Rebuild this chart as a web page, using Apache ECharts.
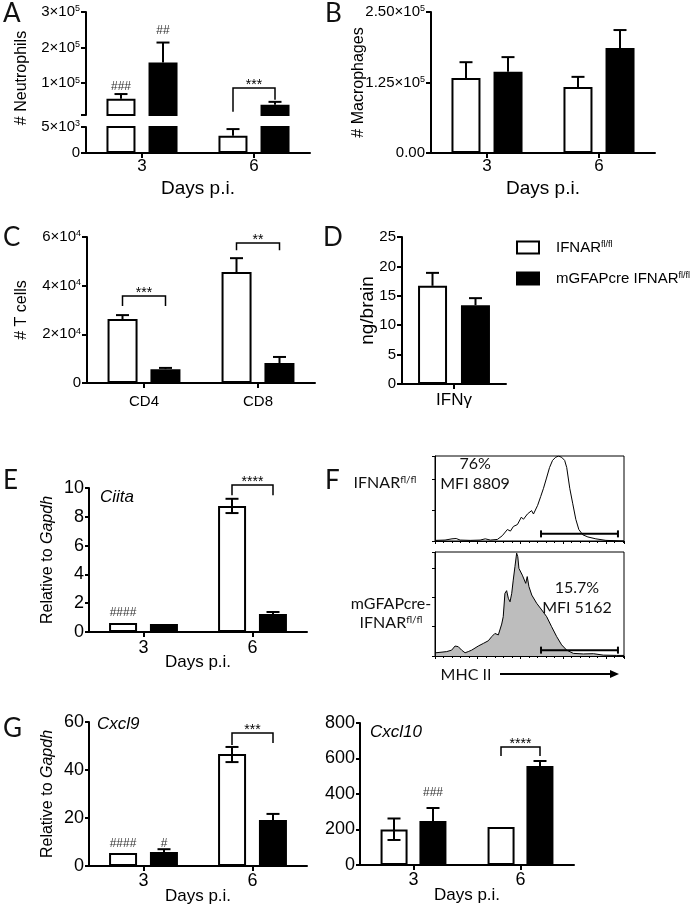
<!DOCTYPE html>
<html><head><meta charset="utf-8">
<script src="https://cdn.jsdelivr.net/npm/echarts@6/dist/echarts.min.js"></script>
<style>html,body{margin:0;padding:0;background:#fff}#c{width:700px;height:909px}</style>
</head><body><div id="c"></div>
<script>
const FONT = "'Liberation Sans', Arial, sans-serif";
const HUM = "Lato, 'Open Sans', sans-serif";

// ---------- DATA ----------
const days = ['3', '6'];
// A: neutrophils
const aWhite = [56000, 3300];
const aWhiteHi = [69000, 4600];
const aBlack = [158000, 39000];
const aBlackHi = [214000, 47000];
const aUpperLabels = [100000, 200000, 300000];
const aUpperTicks = [10000, 100000, 200000, 300000];
const aHashPos = [[0, 73000, -1], [0, 230000, 1]];
const aHashText = ['###', '##'];
const aBracket = [[1, 86000, 19000, 53000]];
const aStarText = ['***'];
// B: macrophages
const bWhite = [133000, 117000];
const bWhiteHi = [161000, 135000];
const bBlack = [144000, 186000];
const bBlackHi = [170000, 218000];
// C: T cells
const tCells = ['CD4', 'CD8'];
const cWhite = [26300, 45600];
const cWhiteHi = [27900, 51300];
const cBlack = [5700, 8200];
const cBlackHi = [6200, 10700];
const cBracket = [[0, 35800, 31600, 31600], [1, 57500, 54600, 54600]];
const cStarText = ['***', '**'];
// D: IFNg
const cytokine = ['IFNγ'];
const dWhite = [16.7];
const dWhiteHi = [18.9];
const dBlack = [13.4];
const dBlackHi = [14.6];
// E: Ciita
const eWhite = [0.63, 8.75];
const eWhiteLo = [0.63, 8.26];
const eWhiteHi = [0.63, 9.25];
const eBlack = [0.55, 1.25];
const eBlackHi = [0.55, 1.39];
const eHashPos = [[0, 0.95, -1]];
const eHashText = ['####'];
const eBracket = [[1, 10.2, 9.5, 9.5]];
const eStarText = ['****'];
// F: MHC II histograms (x: % of plot width, y: counts in tick units)
const fTopHist = [[0,0.02],[5.3,0.03],[9,0.07],[11.2,0.08],[13.3,0.03],[18.6,0.02],[23.9,0.03],[26.6,0.07],[29.3,0.03],[33,0.05],
  [35.6,0.17],[38.3,0.37],[39.9,0.32],[41.5,0.47],[43.6,0.53],[45.7,0.77],[46.8,0.70],[48.9,0.87],[51.1,0.98],[52.1,0.87],
  [54.3,1.15],[55.9,1.43],[57.4,1.70],[59,2.03],[60.6,2.37],[62.2,2.60],[63.8,2.70],[65.4,2.74],[67,2.70],[68.6,2.60],
  [69.7,2.37],[71.3,1.70],[72.9,1.20],[74.5,0.70],[76.1,0.37],[78.2,0.20],[80.9,0.13],[85.1,0.07],[90.4,0.02],[100,0]];
const fBottomHist = [[0.5,0.11],[6.2,0.15],[8.8,0.20],[10.6,0.34],[12.3,0.32],[14.1,0.20],[15.9,0.11],[17.6,0.15],[19.4,0.20],
  [22.9,0.34],[25.6,0.43],[28.2,0.52],[30,0.66],[31.7,0.77],[33.5,0.72],[35.3,1.09],[36.1,1.34],[37,2.14],[37.9,2.23],
  [38.8,1.97],[39.7,1.85],[40.6,2.14],[41.4,2.59],[42.3,3.05],[43.2,3.51],[43.8,3.39],[44.4,2.99],[45.3,2.94],[46.2,2.76],
  [47.1,2.73],[48,2.48],[48.8,2.71],[49.7,2.37],[51.2,2.08],[53.8,1.80],[56.5,1.57],[59.1,1.34],[61.7,1.00],[64.4,0.66],
  [67,0.38],[69.7,0.20],[73.2,0.09],[78.5,0.07],[83.8,0.08],[89,0.03],[96.1,0.02],[100,0.02]];
const fTopGate = [[56.1, 0.23, 96.8]];
const fBottomGate = [[56.1, 0.20, 96.8]];
const fTopTextPos = [[21.2, 2.5, 0], [21.2, 1.85, 0]];
const fTopText = ['76%', 'MFI 8809'];
const fBottomTextPos = [[75.1, 2.32, 0], [75.1, 1.64, 0]];
const fBottomText = ['15.7%', 'MFI 5162'];
// G: Cxcl9
const gWhite = [5.4, 46.7];
const gWhiteLo = [5.4, 43.3];
const gWhiteHi = [5.4, 49.6];
const gBlack = [5.8, 19.2];
const gBlackHi = [7.0, 21.7];
const gHashPos = [[0, 6.7, -1], [0, 6.7, 1]];
const gHashText = ['####', '#'];
const gBracket = [[1, 55.4, 50.4, 51.2]];
const gStarText = ['***'];
// G: Cxcl10
const hWhite = [200, 214];
const hWhiteLo = [141, 214];
const hWhiteHi = [262, 214];
const hBlack = [248, 558];
const hBlackHi = [321, 586];
const hHashPos = [[0, 372, 1]];
const hHashText = ['###'];
const hBracket = [[1, 665, 614, 614]];
const hStarText = ['****'];

// ---------- HELPERS ----------
const W = 'IFNAR', K = 'mGFAPcre IFNAR';
function sci(v, dec) {
  if (v === 0) return dec ? (0).toFixed(dec) : '0';
  const e = Math.floor(Math.log10(v) + 1e-9);
  const m = v / Math.pow(10, e);
  return m.toFixed(dec) + '×10{s|' + e + '}';
}
function bars(gi, white, black, bw, gap) {
  return [
    {name: W, type: 'bar', xAxisIndex: gi, yAxisIndex: gi, data: white, barWidth: bw, barGap: gap, silent: true,
     itemStyle: {color: '#fff', borderColor: '#000', borderWidth: 2}},
    {name: K, type: 'bar', xAxisIndex: gi, yAxisIndex: gi, data: black, barWidth: bw, barGap: gap, silent: true,
     itemStyle: {color: '#000', borderColor: '#000', borderWidth: 2}}
  ];
}
function errRows(vals, lo, hi, side, min, max) {
  return vals.map((v, i) => [i, v, lo[i], hi[i], side])
    .filter(r => (r[3] > r[2] || r[2] < r[1]) && r[1] >= min && r[1] <= max);
}
function errSeries(gi, off, rows) {
  return {type: 'custom', xAxisIndex: gi, yAxisIndex: gi, data: rows, z: 4, silent: true,
    renderItem: (p, api) => {
      const cat = api.value(0), v = api.value(1), lo = api.value(2), hi = api.value(3), side = api.value(4);
      const ph = api.coord([cat, hi]), pl = api.coord([cat, lo]);
      const x = ph[0] + side * off, c = 6.5;
      const st = {stroke: '#000', lineWidth: 2};
      const ch = [{type: 'line', shape: {x1: x, y1: pl[1], x2: x, y2: ph[1]}, style: st},
                  {type: 'line', shape: {x1: x - c, y1: ph[1], x2: x + c, y2: ph[1]}, style: st}];
      if (lo < v) ch.push({type: 'line', shape: {x1: x - c, y1: pl[1], x2: x + c, y2: pl[1]}, style: st});
      return {type: 'group', children: ch};
    }};
}
function bracketSeries(gi, off, rows) {
  return {type: 'custom', xAxisIndex: gi, yAxisIndex: gi, data: rows, z: 4, silent: true,
    renderItem: (p, api) => {
      const cat = api.value(0);
      const pt = api.coord([cat, api.value(1)]), pl = api.coord([cat, api.value(2)]), pr = api.coord([cat, api.value(3)]);
      const xl = pt[0] - off, xr = pt[0] + off;
      return {type: 'polyline', shape: {points: [[xl, pl[1]], [xl, pt[1]], [xr, pt[1]], [xr, pr[1]]]},
        style: {stroke: '#000', lineWidth: 1.5, fill: null}};
    }};
}
function textSeries(gi, off, rows, texts, o) {
  return {type: 'custom', xAxisIndex: gi, yAxisIndex: gi, data: rows, z: 5, silent: true,
    renderItem: (p, api) => {
      const pt = api.coord([api.value(0), api.value(1)]);
      return {type: 'text', x: pt[0] + api.value(2) * off, y: pt[1] + (o.dy || 0),
        style: {text: texts[p.dataIndex], fill: o.color || '#000', fontSize: o.fs, fontFamily: o.font || FONT,
          align: 'center', verticalAlign: o.va || 'bottom'}};
    }};
}
function starRows(br) { return br.map(b => [b[0], b[1], 0]); }
function gateSeries(gi, rows) {
  return {type: 'custom', xAxisIndex: gi, yAxisIndex: gi, data: rows, z: 5, silent: true,
    renderItem: (p, api) => {
      const a = api.coord([api.value(0), api.value(1)]), b = api.coord([api.value(2), api.value(1)]);
      const st = {stroke: '#000', lineWidth: 2};
      return {type: 'group', children: [
        {type: 'line', shape: {x1: a[0], y1: a[1], x2: b[0], y2: b[1]}, style: st},
        {type: 'line', shape: {x1: a[0], y1: a[1] - 3.5, x2: a[0], y2: a[1] + 3.5}, style: st},
        {type: 'line', shape: {x1: b[0], y1: b[1] - 3.5, x2: b[0], y2: b[1] + 3.5}, style: st}]};
    }};
}
const axLine = {show: true, lineStyle: {color: '#000', width: 2}};
function catAxis(gi, data, o) {
  return {type: 'category', gridIndex: gi, data: data, show: o.show !== false,
    axisLine: axLine,
    axisTick: {show: true, alignWithLabel: true, length: 5, lineStyle: {color: '#000', width: 2}},
    axisLabel: {color: '#000', fontFamily: FONT, fontSize: o.fs || 17, margin: o.margin || 6},
    name: o.name || '', nameLocation: 'middle', nameGap: o.nameGap || 25, nameMoveOverlap: false,
    nameTextStyle: {color: '#000', fontFamily: FONT, fontSize: o.nfs || 17}};
}
function valAxis(gi, o) {
  const ax = {type: 'value', gridIndex: gi, min: o.min, max: o.max,
    axisLine: axLine, splitLine: {show: false},
    axisTick: {show: true, length: o.tl || 5, lineStyle: {color: '#000', width: 2}},
    axisLabel: {color: '#000', fontFamily: FONT, fontSize: o.fs || 15, margin: o.margin || 7,
      formatter: o.fmt || (v => String(v)),
      rich: {s: {fontSize: Math.round((o.fs || 15) * 0.62), fontFamily: FONT, color: '#000', verticalAlign: 'top'}}},
    name: o.name || '', nameLocation: 'middle', nameGap: o.nameGap || 40, nameMoveOverlap: false,
    nameTextStyle: {color: '#000', fontFamily: FONT, fontSize: o.nfs || 16,
      rich: {n: {fontSize: o.nfs || 16, fontFamily: FONT, color: '#000'},
             i: {fontSize: o.nfs || 16, fontFamily: FONT, color: '#000', fontStyle: 'italic'}}}};
  if (o.interval) ax.interval = o.interval;
  if (o.labelValues) ax.axisLabel.customValues = o.labelValues;
  if (o.tickValues) ax.axisTick.customValues = o.tickValues;
  return ax;
}
function flowX(gi) {
  return {type: 'value', gridIndex: gi, min: 0, max: 100, interval: 22.6,
    axisLine: {show: true, lineStyle: {color: '#000', width: 1}},
    axisTick: {show: true, length: 3, lineStyle: {color: '#000', width: 1}},
    minorTick: {show: true, splitNumber: 5, length: 2, lineStyle: {color: '#000', width: 1}},
    axisLabel: {show: false}, splitLine: {show: false}};
}
function flowY(gi, max) {
  return {type: 'value', gridIndex: gi, min: 0, max: max, interval: 1,
    axisLine: {show: true, lineStyle: {color: '#000', width: 1}},
    axisTick: {show: true, length: 3, lineStyle: {color: '#000', width: 1}},
    axisLabel: {show: false}, splitLine: {show: false}};
}

const grids = [
  {left: 86, top: 12, width: 224, height: 103},
  {left: 86, top: 127, width: 224, height: 26},
  {left: 431, top: 12, width: 224, height: 141},
  {left: 87, top: 237, width: 228, height: 146},
  {left: 402, top: 237, width: 104, height: 147},
  {left: 89, top: 488, width: 218, height: 144},
  {left: 435, top: 456, width: 189, height: 85, show: true, borderColor: '#000', borderWidth: 1, backgroundColor: 'transparent'},
  {left: 435, top: 552, width: 189, height: 104, show: true, borderColor: '#000', borderWidth: 1, backgroundColor: 'transparent'},
  {left: 89, top: 722, width: 218, height: 144},
  {left: 360, top: 723, width: 214, height: 142}
];

const xAxes = [
  catAxis(0, days, {show: false}),
  catAxis(1, days, {fs: 17, margin: 5, name: 'Days p.i.', nameGap: 26, nfs: 19}),
  catAxis(2, days, {fs: 17, margin: 5, name: 'Days p.i.', nameGap: 26, nfs: 19}),
  catAxis(3, tCells, {fs: 15, margin: 11}),
  catAxis(4, cytokine, {fs: 17, margin: 8}),
  catAxis(5, days, {fs: 18, margin: 7, name: 'Days p.i.', nameGap: 22, nfs: 17}),
  flowX(6), flowX(7),
  catAxis(8, days, {fs: 18, margin: 6, name: 'Days p.i.', nameGap: 22, nfs: 17}),
  catAxis(9, days, {fs: 18, margin: 6, name: 'Days p.i.', nameGap: 22, nfs: 17})
];
const yAxes = [
  valAxis(0, {min: 10000, max: 300000, labelValues: aUpperLabels, tickValues: aUpperTicks, fmt: v => sci(v, 0), margin: 6}),
  valAxis(1, {min: 0, max: 5000, interval: 5000, fmt: v => sci(v, 0), margin: 6}),
  valAxis(2, {min: 0, max: 250000, interval: 125000, fmt: v => sci(v, 2), margin: 6, name: '# Macrophages', nameGap: 64}),
  valAxis(3, {min: 0, max: 60000, interval: 20000, fmt: v => sci(v, 0), margin: 6, name: '# T cells', nameGap: 57}),
  valAxis(4, {min: 0, max: 25, interval: 5, margin: 6, name: 'ng/brain', nameGap: 25, nfs: 19}),
  valAxis(5, {min: 0, max: 10, interval: 2, fs: 18, tl: 4, margin: 5, name: '{n|Relative to }{i|Gapdh}', nameGap: 33}),
  flowY(6, 2.742), flowY(7, 3.55),
  valAxis(8, {min: 0, max: 60, interval: 20, fs: 18, tl: 4, margin: 5, name: '{n|Relative to }{i|Gapdh}', nameGap: 33}),
  valAxis(9, {min: 0, max: 800, interval: 200, fs: 18, tl: 4, margin: 5})
];

const series = [].concat(
  // A
  bars(0, aWhite, aBlack, 29, '45%'), bars(1, aWhite, aBlack, 29, '45%'),
  [errSeries(0, 21, errRows(aWhite, aWhite, aWhiteHi, -1, 10000, 300000).concat(errRows(aBlack, aBlack, aBlackHi, 1, 10000, 300000))),
   errSeries(1, 21, errRows(aWhite, aWhite, aWhiteHi, -1, 0, 5000).concat(errRows(aBlack, aBlack, aBlackHi, 1, 0, 5000))),
   bracketSeries(0, 21, aBracket),
   textSeries(0, 21, aHashPos, aHashText, {fs: 12, color: '#333'}),
   textSeries(0, 21, starRows(aBracket), aStarText, {fs: 14, dy: 4})],
  // B
  bars(2, bWhite, bBlack, 29, '45%'),
  [errSeries(2, 21, errRows(bWhite, bWhite, bWhiteHi, -1, 0, 1e9).concat(errRows(bBlack, bBlack, bBlackHi, 1, 0, 1e9)))],
  // C
  bars(3, cWhite, cBlack, 30, '43%'),
  [errSeries(3, 21.5, errRows(cWhite, cWhite, cWhiteHi, -1, 0, 1e9).concat(errRows(cBlack, cBlack, cBlackHi, 1, 0, 1e9))),
   bracketSeries(3, 21.5, cBracket),
   textSeries(3, 21.5, starRows(cBracket), cStarText, {fs: 14, dy: 4})],
  // D
  bars(4, dWhite, dBlack, 29, '48%'),
  [errSeries(4, 21.5, errRows(dWhite, dWhite, dWhiteHi, -1, 0, 1e9).concat(errRows(dBlack, dBlack, dBlackHi, 1, 0, 1e9)))],
  // E
  bars(5, eWhite, eBlack, 28, '46%'),
  [errSeries(5, 20.5, errRows(eWhite, eWhiteLo, eWhiteHi, -1, 0, 1e9).concat(errRows(eBlack, eBlack, eBlackHi, 1, 0, 1e9))),
   bracketSeries(5, 20.5, eBracket),
   textSeries(5, 20.5, eHashPos, eHashText, {fs: 12, color: '#333'}),
   textSeries(5, 20.5, starRows(eBracket), eStarText, {fs: 14, dy: 4})],
  // F
  [{type: 'line', xAxisIndex: 6, yAxisIndex: 6, data: fTopHist, showSymbol: false, symbol: 'none', silent: true,
     lineStyle: {color: '#000', width: 1}},
   {type: 'line', xAxisIndex: 7, yAxisIndex: 7, data: fBottomHist, showSymbol: false, symbol: 'none', silent: true,
     lineStyle: {color: '#000', width: 1}, areaStyle: {color: '#bdbdbd', opacity: 1}},
   gateSeries(6, fTopGate), gateSeries(7, fBottomGate),
   textSeries(6, 0, fTopTextPos, fTopText, {fs: 16, font: HUM, va: 'middle', color: '#111'}),
   textSeries(7, 0, fBottomTextPos, fBottomText, {fs: 16, font: HUM, va: 'middle', color: '#111'})],
  // G left
  bars(8, gWhite, gBlack, 28, '46%'),
  [errSeries(8, 20.5, errRows(gWhite, gWhiteLo, gWhiteHi, -1, 0, 1e9).concat(errRows(gBlack, gBlack, gBlackHi, 1, 0, 1e9))),
   bracketSeries(8, 20.5, gBracket),
   textSeries(8, 20.5, gHashPos, gHashText, {fs: 12, color: '#333'}),
   textSeries(8, 20.5, starRows(gBracket), gStarText, {fs: 14, dy: 4})],
  // G right
  bars(9, hWhite, hBlack, 27, '44%'),
  [errSeries(9, 19.5, errRows(hWhite, hWhiteLo, hWhiteHi, -1, 0, 1e9).concat(errRows(hBlack, hBlack, hBlackHi, 1, 0, 1e9))),
   bracketSeries(9, 19.5, hBracket),
   textSeries(9, 19.5, hHashPos, hHashText, {fs: 12, color: '#333'}),
   textSeries(9, 19.5, starRows(hBracket), hStarText, {fs: 14, dy: 4})]
);

const supRich = {n: {fontSize: 16, fontFamily: HUM, color: '#111'}, s: {fontSize: 10, fontFamily: HUM, color: '#111', verticalAlign: 'top'}};
function letter(t, x, y) {
  return {type: 'text', x: x, y: y, style: {text: t, fontSize: 26, fontFamily: HUM, fill: '#111', align: 'left', verticalAlign: 'top'}};
}
function lab(t, x, y, rich, extra) {
  return Object.assign({type: 'text', x: x, y: y,
    style: {text: t, rich: rich, fontSize: 16, fontFamily: HUM, fill: '#111', align: 'center', verticalAlign: 'middle'}}, extra || {});
}
const graphics = [
  letter('A', 3, 1), letter('B', 325, 1), letter('C', 3, 225), letter('D', 323, 225),
  letter('E', 3, 468), letter('F', 325, 468), letter('G', 3, 716),
  {type: 'text', x: 22, y: 78, rotation: Math.PI / 2,
   style: {text: '# Neutrophils', fontSize: 16, fontFamily: FONT, fill: '#000', align: 'center', verticalAlign: 'middle'}},
  {type: 'text', x: 100, y: 497, style: {text: 'Ciita', fontSize: 17, fontStyle: 'italic', fontFamily: FONT, fill: '#000', align: 'left', verticalAlign: 'middle'}},
  {type: 'text', x: 97, y: 724, style: {text: 'Cxcl9', fontSize: 17, fontStyle: 'italic', fontFamily: FONT, fill: '#000', align: 'left', verticalAlign: 'middle'}},
  {type: 'text', x: 370, y: 732, style: {text: 'Cxcl10', fontSize: 17, fontStyle: 'italic', fontFamily: FONT, fill: '#000', align: 'left', verticalAlign: 'middle'}},
  lab('{n|IFNAR}{s|fl/fl}', 385, 483, supRich),
  lab('{n|mGFAPcre-}', 391, 604, supRich),
  lab('{n|IFNAR}{s|fl/fl}', 391, 623, supRich),
  lab('{n|MHC II}', 466, 675, supRich),
  {type: 'line', shape: {x1: 500, y1: 674, x2: 612, y2: 674}, style: {stroke: '#000', lineWidth: 2}},
  {type: 'polygon', shape: {points: [[619, 674], [610, 670], [610, 678]]}, style: {fill: '#000'}}
];

const chart = echarts.init(document.getElementById('c'), null, {renderer: 'canvas'});
chart.setOption({
  animation: false,
  backgroundColor: '#fff',
  grid: grids,
  xAxis: xAxes,
  yAxis: yAxes,
  series: series,
  legend: {
    show: true, orient: 'vertical', left: 516, top: 240, padding: 0,
    itemWidth: 22, itemHeight: 12, itemGap: 16, icon: 'rect', selectedMode: false,
    data: [
      {name: W, itemStyle: {color: '#fff', borderColor: '#000', borderWidth: 2}},
      {name: K, itemStyle: {color: '#000', borderColor: '#000', borderWidth: 2}}
    ],
    formatter: n => '{g|}{n|' + n + '}{s|fl/fl}',
    textStyle: {rich: {
      g: {width: 12},
      n: {fontSize: 15, fontFamily: FONT, color: '#000'},
      s: {fontSize: 9, fontFamily: FONT, color: '#000', verticalAlign: 'top'}
    }}
  },
  graphic: {elements: graphics}
});
</script></body></html>
